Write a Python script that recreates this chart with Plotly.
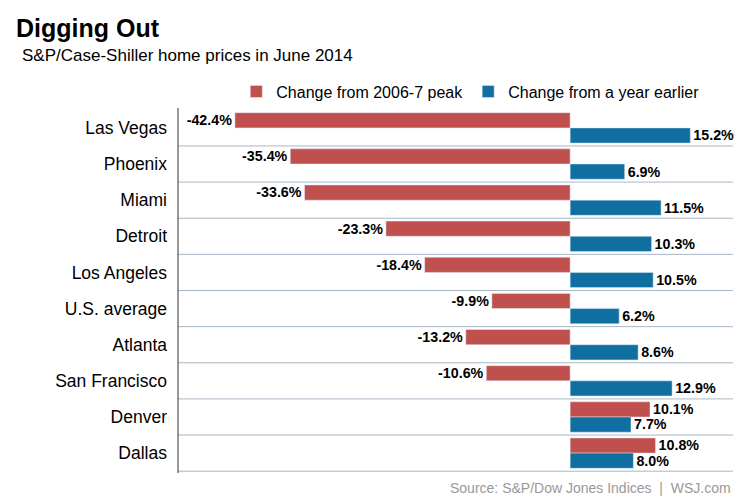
import plotly.graph_objects as go

cities = ["Las Vegas", "Phoenix", "Miami", "Detroit", "Los Angeles", "U.S. average",
          "Atlanta", "San Francisco", "Denver", "Dallas"]
from_peak = [-42.4, -35.4, -33.6, -23.3, -18.4, -9.9, -13.2, -10.6, 10.1, 10.8]
year_change = [15.2, 6.9, 11.5, 10.3, 10.5, 6.2, 8.6, 12.9, 7.7, 8.0]

RED = "#c0504d"
BLUE = "#0e6fa0"
FONT = "Liberation Sans, Arial, sans-serif"

fig = go.Figure()
fig.add_trace(go.Bar(
    y=cities, x=from_peak, orientation="h", name="Change from 2006-7 peak",
    marker_color=RED, text=[f"<b>{v:.1f}%</b>" for v in from_peak], textposition="outside",
    textfont=dict(size=16, color="black", family=FONT), cliponaxis=False,
))
fig.add_trace(go.Bar(
    y=cities, x=year_change, orientation="h", name="Change from a year earlier",
    marker_color=BLUE, text=[f"<b>{v:.1f}%</b>" for v in year_change], textposition="outside",
    textfont=dict(size=16, color="black", family=FONT), cliponaxis=False,
))

# separator lines under each city row
shapes = []
for i in range(len(cities)):
    shapes.append(dict(type="line", xref="paper", x0=0, x1=1, yref="y",
                       y0=i + 0.5, y1=i + 0.5, line=dict(color="#a9b7c6", width=1)))
shapes.append(dict(type="line", xref="paper", x0=0, x1=0, yref="paper", y0=0, y1=1.0,
                   line=dict(color="#333", width=1)))
fig.update_layout(shapes=shapes)

fig.update_layout(
    width=749, height=499,
    margin=dict(l=170, r=24, t=100, b=34),
    paper_bgcolor="white", plot_bgcolor="white",
    barmode="group", bargap=0.16, bargroupgap=0,
    font=dict(family=FONT, color="black"),
    xaxis=dict(range=[-49.6, 20.6], showticklabels=False, showgrid=False, zeroline=False),
    yaxis=dict(range=[9.55, -0.55], showgrid=False, ticks="", ticklabelstandoff=10,
               tickfont=dict(size=17.5, family=FONT)),
    legend=dict(orientation="h", x=0.105, xanchor="left", y=1.045, yanchor="middle",
                font=dict(size=16, family=FONT), traceorder="normal"),
    showlegend=True,
    annotations=[
        dict(text="<b>Digging Out</b>", xref="paper", yref="paper",
             x=-0.295, y=1.262, xanchor="left", yanchor="top", showarrow=False,
             font=dict(size=25, family=FONT)),
        dict(text="S&P/Case-Shiller home prices in June 2014", xref="paper", yref="paper",
             x=-0.285, y=1.175, xanchor="left", yanchor="top", showarrow=False,
             font=dict(size=17, family=FONT)),
        dict(text="Source: S&P/Dow Jones Indices  |  WSJ.com", xref="paper", yref="paper",
             x=1.0, y=-0.015, xanchor="right", yanchor="top", showarrow=False,
             font=dict(size=14, color="#999", family=FONT)),
    ],
)

fig.write_html("out.html")
